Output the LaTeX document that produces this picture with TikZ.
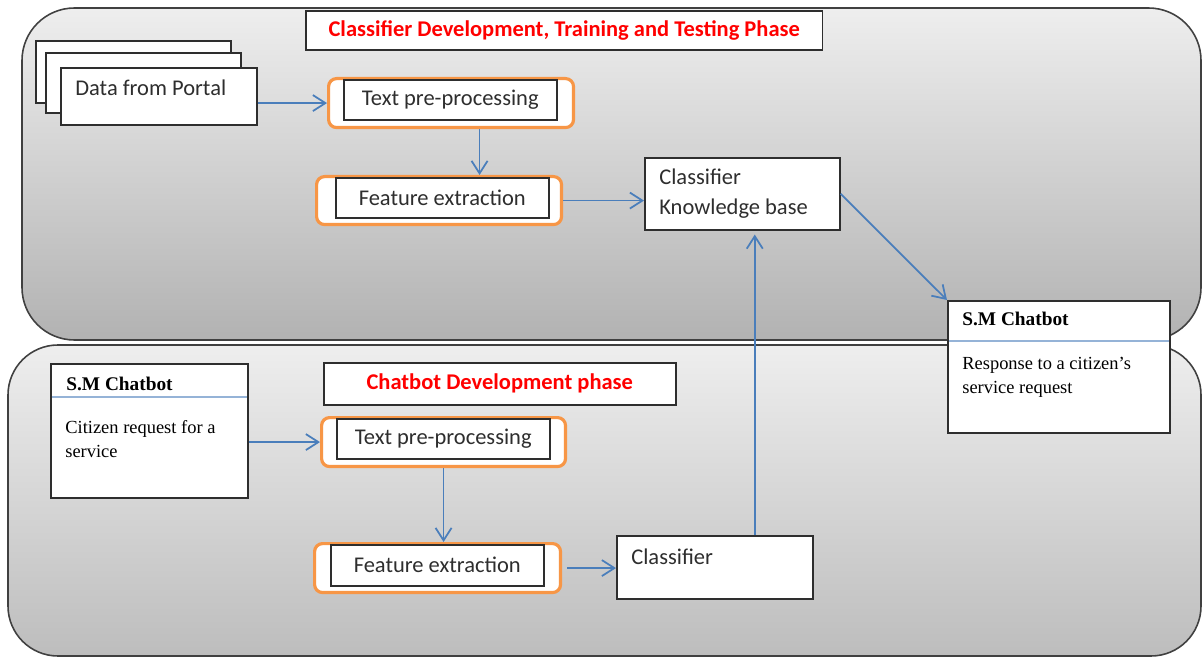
\documentclass[tikz,border=0pt]{standalone}
\usepackage{fontspec}
\setmainfont{Carlito}
\newfontfamily\tnr{Liberation Serif}
\usetikzlibrary{arrows.meta}

\definecolor{flowblue}{HTML}{4A7EBB}
\definecolor{hiorange}{HTML}{F79646}
\definecolor{rulblue}{HTML}{95B3D7}
\definecolor{phasered}{HTML}{FF0000}
\definecolor{inkgray}{HTML}{2E2E2E}
\definecolor{panetop}{HTML}{EEEEEE}
\definecolor{panebot}{HTML}{B2B2B2}
\definecolor{panebotb}{HTML}{BDBDBD}

\begin{document}
\begin{tikzpicture}[x=0.02cm,y=-0.02cm,
  font=\fontsize{12.8}{17}\selectfont,
  panel/.style={draw=black!75,line width=0.9pt,rounded corners=1.05cm},
  box/.style={draw=inkgray,fill=white,text=inkgray,line width=0.9pt,anchor=north west,inner sep=0pt},
  hilite/.style={draw=hiorange,fill=white,line width=1.8pt,rounded corners=0.16cm,anchor=north west,inner sep=0pt},
  phase/.style={box,text=phasered,font=\fontsize{12.8}{15}\selectfont\bfseries},
  txt/.style={anchor=north west,inner sep=0pt,text=inkgray,align=left},
  smtitle/.style={txt,text=black,font=\tnr\fontsize{11}{13}\selectfont\bfseries},
  smbody/.style={txt,text=black,font=\tnr\fontsize{10.5}{13.7}\selectfont},
  smbox/.style={box,path picture={\draw[rulblue,line width=1pt]
      ([yshift=-#1]path picture bounding box.north west) --
      ([yshift=-#1]path picture bounding box.north east);}},
  flow/.style={draw=flowblue,line width=1pt,-{Straight Barb[length=0.25cm,width=0.32cm]}}
]
\useasboundingbox (0,0) rectangle (1203,658);

% the two phase panels
\draw[panel,top color=panetop,bottom color=panebot] (22,8) rectangle (1201,340);
\draw[panel,top color=panetop,bottom color=panebotb,rounded corners=1cm] (8,345) rectangle (1201,656);

% training and testing phase
\node[phase,minimum width=10.34cm,minimum height=0.78cm] (ph1) at (305,10) {Classifier Development, Training and Testing Phase};

\node[box,minimum width=3.9cm,minimum height=1.24cm] (pg3) at (35,40) {};
\node[box,minimum width=3.9cm,minimum height=1.2cm] (pg2) at (45,52) {};
\node[box,minimum width=3.92cm,minimum height=1.14cm,
  label={[txt,xshift=0.3cm,yshift=-0.26cm]north west:Data from Portal}] (portal) at (60,67) {};

\node[hilite,minimum width=4.9cm,minimum height=0.98cm] (tpo1) at (327,77) {};
\node[box,minimum width=4.26cm,minimum height=0.8cm] (tp1) at (343,79) {Text pre-processing};
\node[hilite,minimum width=4.9cm,minimum height=0.96cm] (feo1) at (315,175) {};
\node[box,minimum width=4.26cm,minimum height=0.8cm] (fe1) at (335,177) {Feature extraction};

\node[box,minimum width=3.9cm,minimum height=1.44cm,
  label={[txt,xshift=0.3cm,yshift=-0.24cm]north west:Classifier\\Knowledge base}] (ckb) at (644,157) {};

\node[smbox=0.8cm,minimum width=4.44cm,minimum height=2.64cm,
  label={[smtitle,xshift=0.3cm,yshift=-0.24cm]north west:S.M Chatbot},
  label={[smbody,xshift=0.3cm,yshift=-1.13cm]north west:Response to a citizen’s\\service request}] (reply) at (947,300) {};

% chatbot phase
\node[phase,minimum width=7.04cm,minimum height=0.84cm] (ph2) at (323,362) {Chatbot Development phase};

\node[smbox=0.66cm,minimum width=3.94cm,minimum height=2.68cm,
  label={[smtitle,xshift=0.32cm,yshift=-0.28cm]north west:S.M Chatbot},
  label={[smbody,xshift=0.3cm,yshift=-1.15cm]north west:Citizen request for a\\service}] (citizen) at (50,363) {};

\node[hilite,minimum width=4.88cm,minimum height=0.98cm] (tpo2) at (320,416) {};
\node[box,minimum width=4.26cm,minimum height=0.8cm] (tp2) at (336,418) {Text pre-processing};
\node[hilite,minimum width=4.92cm,minimum height=0.98cm] (feo2) at (313,542) {};
\node[box,minimum width=4.26cm,minimum height=0.82cm] (fe2) at (330,544) {Feature extraction};

\node[box,minimum width=3.92cm,minimum height=1.26cm,
  label={[txt,xshift=0.3cm,yshift=-0.28cm]north west:Classifier}] (clf) at (616,535) {};

% flow between steps
\path[flow] (portal.east |- tpo1.west) -- (tpo1.west);
\path[flow] ([xshift=0.57cm]tpo1.south) -- ([xshift=0.57cm]tpo1.south |- feo1.north);
\path[flow] (feo1.east) -- (feo1.east -| ckb.west);
\path[flow] (ckb.east) -- (reply.north west);
\path[flow] ([xshift=0.8cm]clf.north) -- ([xshift=0.8cm,yshift=-0.08cm]clf.north |- ckb.south);
\path[flow] (citizen.east |- tpo2.west) -- (tpo2.west);
\path[flow] (tpo2.south) -- (tpo2.south |- feo2.north);
\path[flow] ([xshift=0.1cm]feo2.east) -- (feo2.east -| clf.west);
\end{tikzpicture}
\end{document}
